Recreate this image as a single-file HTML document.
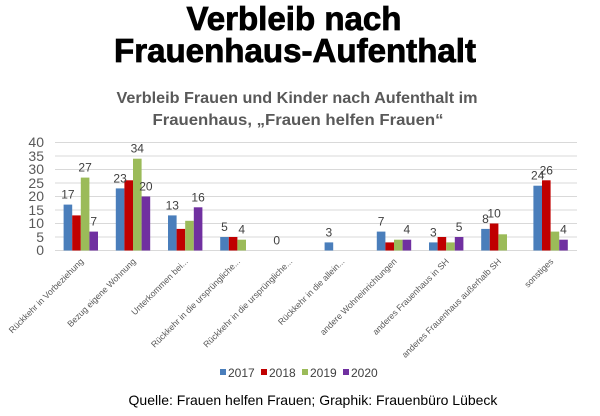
<!DOCTYPE html>
<html><head><meta charset="utf-8"><style>body{margin:0;background:#fff}svg{display:block}</style></head>
<body>
<svg width="600" height="416" xmlns="http://www.w3.org/2000/svg" font-family="Liberation Sans, sans-serif">
<text x="294" y="30" font-size="33" font-weight="bold" text-anchor="middle" textLength="215" lengthAdjust="spacingAndGlyphs" stroke="#000" stroke-width="0.8">Verbleib nach</text>
<text x="295" y="62" font-size="33" font-weight="bold" text-anchor="middle" textLength="362" lengthAdjust="spacingAndGlyphs" stroke="#000" stroke-width="0.8">Frauenhaus-Aufenthalt</text>
<text x="297" y="103" font-size="16" font-weight="bold" fill="#595959" text-anchor="middle" textLength="361" lengthAdjust="spacingAndGlyphs">Verbleib Frauen und Kinder nach Aufenthalt im</text>
<text x="298" y="125" font-size="16" font-weight="bold" fill="#595959" text-anchor="middle" textLength="291" lengthAdjust="spacingAndGlyphs">Frauenhaus, „Frauen helfen Frauen“</text>
<g stroke="#d9d9d9" stroke-width="1">
<line x1="55" x2="577" y1="142.5" y2="142.5"/><line x1="55" x2="577" y1="156" y2="156"/><line x1="55" x2="577" y1="169.5" y2="169.5"/><line x1="55" x2="577" y1="183" y2="183"/><line x1="55" x2="577" y1="196.5" y2="196.5"/><line x1="55" x2="577" y1="210" y2="210"/><line x1="55" x2="577" y1="223.5" y2="223.5"/><line x1="55" x2="577" y1="237" y2="237"/><line x1="55" x2="577" y1="250.5" y2="250.5"/>
</g>
<g font-size="14" fill="#595959" text-anchor="end">
<text x="44" y="147">40</text><text x="44" y="161">35</text><text x="44" y="174">30</text><text x="44" y="188">25</text><text x="44" y="201">20</text><text x="44" y="215">15</text><text x="44" y="228">10</text><text x="44" y="242">5</text><text x="44" y="255">0</text>
</g>
<g id="bars"></g>
<g font-size="12" fill="#404040" text-anchor="middle" id="lbl"></g>
<g font-size="8.7" fill="#595959" text-anchor="end" id="xl"></g>
<g font-size="12" fill="#404040">
<rect x="220" y="369" width="6" height="6" fill="#4a7ebb"/><text x="228" y="377">2017</text>
<rect x="261" y="369" width="6" height="6" fill="#c00000"/><text x="269" y="377">2018</text>
<rect x="302" y="369" width="6" height="6" fill="#9bbb59"/><text x="310" y="377">2019</text>
<rect x="343" y="369" width="6" height="6" fill="#7030a0"/><text x="351" y="377">2020</text>
</g>
<text x="313" y="405" font-size="14" text-anchor="middle" fill="#000">Quelle: Frauen helfen Frauen; Graphik: Frauenbüro Lübeck</text>
<script>
var d=[[17,13,27,7],[23,26,34,20],[13,8,11,16],[5,5,4,null],[0,null,null,null],[3,null,null,null],[7,3,4,4],[3,5,3,5],[8,10,6,null],[24,26,7,4]];
var L=[[1,0,1,1],[1,0,1,1],[1,0,0,1],[1,0,1,0],[1,0,0,0],[1,0,0,0],[1,0,0,1],[1,0,0,1],[1,1,0,0],[1,1,0,1]];
var names=["Rückkehr in Vorbeziehung","Bezug eigene Wohnung","Unterkommen bei...","Rückkehr in die ursprüngliche...","Rückkehr in die ursprüngliche...","Rückkehr in die allein...","andere Wohneinrichtungen","anderes Frauenhaus in SH","anderes Frauenhaus außerhalb SH","sonstiges"];
var c=["#4a7ebb","#c00000","#9bbb59","#7030a0"];
var ns="http://www.w3.org/2000/svg",b=document.getElementById("bars"),l=document.getElementById("lbl"),xl=document.getElementById("xl");
var s=2.7,y0=250.5;
for(var k=0;k<10;k++){var cx=55+52.2*(k+0.5),x0=cx-17.5;
for(var j=0;j<4;j++){var v=d[k][j];if(v===null)continue;var x=x0+j*8.6;
if(v>0){var r=document.createElementNS(ns,"rect");r.setAttribute("x",x);r.setAttribute("y",y0-v*s);r.setAttribute("width",8.6);r.setAttribute("height",v*s);r.setAttribute("fill",c[j]);b.appendChild(r);}
if(L[k][j]){var t=document.createElementNS(ns,"text");t.setAttribute("x",x+4.3);t.setAttribute("y",y0-v*s-6);t.textContent=v;l.appendChild(t);}}
var t2=document.createElementNS(ns,"text");t2.setAttribute("transform","translate("+(cx+3)+",262) rotate(-45)");t2.textContent=names[k];xl.appendChild(t2);}
</script>
</svg>
</body></html>
